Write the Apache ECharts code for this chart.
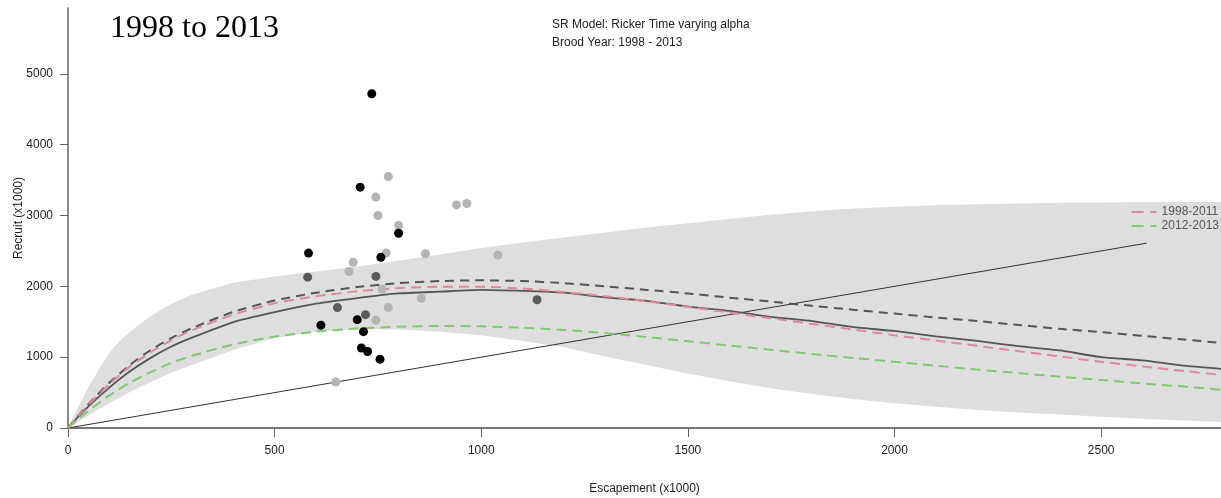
<!DOCTYPE html>
<html>
<head>
<meta charset="utf-8">
<script src="https://cdn.jsdelivr.net/npm/echarts@6.0.0/dist/echarts.min.js"></script>
<style>
html, body { margin: 0; padding: 0; background: #fff; }
#sr_chart { width: 1221px; height: 498px; }
</style>
</head>
<body>
<div id="sr_chart"></div>
<script>
// uncertainty band (own grid, denser near the origin)
var bandX      = [0, 10, 25, 50, 75, 100, 125, 150, 200, 250, 300, 400, 500, 600, 700, 800, 900, 1000, 1100, 1200, 1300, 1400, 1500, 1600, 1700, 1800, 1900, 2000, 2100, 2200, 2300, 2400, 2500, 2600, 2700, 2790];
var bandUpper  = [0, 125, 300, 580, 830, 1060, 1230, 1360, 1580, 1750, 1880, 2050, 2140, 2210, 2280, 2360, 2450, 2540, 2620, 2690, 2760, 2830, 2890, 2950, 3010, 3060, 3100, 3125, 3145, 3160, 3170, 3180, 3185, 3190, 3190, 3190];
var bandLower  = [0, 35, 90, 180, 265, 350, 430, 510, 650, 780, 890, 1100, 1270, 1360, 1395, 1390, 1360, 1310, 1230, 1140, 1010, 890, 770, 660, 560, 480, 410, 350, 300, 255, 220, 190, 160, 130, 105, 85];

// escapement grid shared by the curves
var curveX     = [0, 25, 50, 100, 150, 200, 250, 300, 400, 500, 600, 700, 800, 900, 1000, 1100, 1200, 1300, 1400, 1500, 1600, 1700, 1800, 1900, 2000, 2100, 2200, 2300, 2400, 2500, 2600, 2700, 2790];
var medianLine = [0, 160, 310, 570, 800, 990, 1150, 1275, 1495, 1635, 1755, 1835, 1900, 1925, 1950, 1935, 1910, 1845, 1795, 1715, 1655, 1570, 1510, 1425, 1370, 1295, 1230, 1155, 1095, 1000, 955, 880, 835];
var meanLine   = [0, 175, 340, 640, 890, 1100, 1270, 1410, 1640, 1800, 1910, 1990, 2045, 2075, 2085, 2075, 2045, 2000, 1950, 1900, 1840, 1785, 1725, 1670, 1615, 1560, 1510, 1455, 1400, 1355, 1300, 1250, 1200];
var line9811   = [0, 170, 330, 620, 870, 1070, 1240, 1380, 1600, 1760, 1860, 1930, 1975, 1995, 1995, 1970, 1920, 1860, 1790, 1710, 1630, 1550, 1470, 1390, 1310, 1235, 1160, 1085, 1010, 935, 870, 805, 750];
var line1213   = [0, 125, 245, 460, 640, 790, 920, 1020, 1180, 1290, 1360, 1405, 1430, 1440, 1435, 1415, 1385, 1340, 1285, 1225, 1165, 1105, 1045, 990, 935, 880, 825, 775, 725, 678, 630, 585, 540];

// replacement line S = R
var replX = [0, 2610];
var replY = [0, 2610];

// observed points, by shade
var blackS = [735, 707, 582, 612, 700, 715, 710, 725, 755, 757, 800];
var blackR = [4720, 3400, 2470, 1450, 1530, 1360, 1130, 1080, 970, 2410, 2750];
var darkS  = [580, 652, 720, 745, 1135];
var darkR  = [2130, 1700, 1600, 2140, 1810];
var lightS = [775, 745, 750, 800, 690, 680, 770, 760, 745, 775, 855, 865, 940, 965, 1040, 648];
var lightR = [3550, 3260, 3000, 2860, 2340, 2210, 2470, 1960, 1520, 1700, 1830, 2460, 3150, 3170, 2440, 650];

var xTicks = [0, 500, 1000, 1500, 2000, 2500];
var yTicks = [0, 1000, 2000, 3000, 4000, 5000];

function pairs(xs, ys) {
	var out = [];
	for (var i = 0; i < xs.length; i++) out.push([xs[i], ys[i]]);
	return out;
}

var myChart = echarts.init(document.getElementById('sr_chart'));
var font = 'Liberation Sans, Arial, sans-serif';
// two-dash legend key, like the R legend
var dashIcon = 'path://M0 0H12V2H0Z M19 0H25V2H19Z';

option = {
	animation: false,
	textStyle: { fontFamily: font },
	title: [ {
		text: '1998 to 2013',
		left: 110, top: 13, padding: 0,
		textStyle: { fontFamily: 'Liberation Serif, Times New Roman, serif', fontSize: 32, fontWeight: 'normal', color: '#000' }
	}, {
		text: 'SR Model: Ricker Time varying alpha\nBrood Year: 1998 - 2013',
		left: 552, top: 16, padding: 0,
		textStyle: { fontFamily: font, fontSize: 12, fontWeight: 'normal', color: '#222', lineHeight: 18 }
	} ],
	legend: {
		data: [ { name: '1998-2011', icon: dashIcon }, { name: '2012-2013', icon: dashIcon } ],
		orient: 'vertical',
		right: 2, top: 206,
		padding: 0,
		itemWidth: 25, itemHeight: 2, itemGap: 2,
		textStyle: { fontFamily: font, fontSize: 12, color: '#555' }
	},
	grid: { left: 68, right: 0, top: 8, bottom: 70, outerBoundsMode: 'none' },
	xAxis: {
		type: 'value', min: 0, max: 2790, interval: 500,
		name: 'Escapement (x1000)', nameLocation: 'middle', nameGap: 55, nameMoveOverlap: false,
		nameTextStyle: { fontSize: 12, color: '#222' },
		axisLine: { show: true, onZero: false, lineStyle: { color: '#777', width: 2 } },
		axisTick: { show: true, length: 9, customValues: xTicks, lineStyle: { color: '#666' } },
		axisLabel: { fontSize: 12, color: '#222', margin: 17, customValues: xTicks, formatter: function(v) { return String(v); } },
		splitLine: { show: false }
	},
	yAxis: {
		type: 'value', min: 0, max: 5930, interval: 1000,
		name: 'Recruit (x1000)', nameLocation: 'middle', nameGap: 43, nameRotate: 90, nameMoveOverlap: false,
		nameTextStyle: { fontSize: 12, color: '#222' },
		axisLine: { show: true, onZero: false, lineStyle: { color: '#666', width: 1.5 } },
		axisTick: { show: true, length: 8, customValues: yTicks, lineStyle: { color: '#666' } },
		axisLabel: { fontSize: 12, color: '#222', margin: 15, customValues: yTicks, formatter: function(v) { return String(v); } },
		splitLine: { show: false }
	},
	series: [ {
		type: 'custom',
		name: 'band',
		z: 1,
		clip: true,
		silent: true,
		data: [[0, 0]],
		renderItem: function(params, api) {
			var pts = [];
			for (var i = 0; i < bandX.length; i++) pts.push(api.coord([bandX[i], bandUpper[i]]));
			for (var j = bandX.length - 1; j >= 0; j--) pts.push(api.coord([bandX[j], bandLower[j]]));
			return { type: 'polygon', shape: { points: pts }, style: { fill: '#dedede' } };
		}
	}, {
		type: 'line', name: 'replacement', z: 2, symbol: 'none',
		data: pairs(replX, replY),
		lineStyle: { color: '#333', width: 1 }
	}, {
		type: 'line', name: 'median', z: 3, symbol: 'none', smooth: 0.15,
		data: pairs(curveX, medianLine),
		lineStyle: { color: '#555', width: 1.8 }
	}, {
		type: 'line', name: 'mean', z: 3, symbol: 'none', smooth: 0.2,
		data: pairs(curveX, meanLine),
		lineStyle: { color: '#555', width: 2, type: [9, 6] }
	}, {
		type: 'line', name: '1998-2011', z: 3, symbol: 'none', smooth: 0.2,
		data: pairs(curveX, line9811),
		itemStyle: { color: '#dc8a96' },
		lineStyle: { color: '#dc8a96', width: 2, type: [10, 6] }
	}, {
		type: 'line', name: '2012-2013', z: 3, symbol: 'none', smooth: 0.2,
		data: pairs(curveX, line1213),
		itemStyle: { color: '#82c872' },
		lineStyle: { color: '#82c872', width: 2, type: [10, 6] }
	}, {
		type: 'scatter', name: 'light', z: 4, symbolSize: 9,
		data: pairs(lightS, lightR),
		itemStyle: { color: '#b4b4b4', opacity: 1 }
	}, {
		type: 'scatter', name: 'dark', z: 4, symbolSize: 9,
		data: pairs(darkS, darkR),
		itemStyle: { color: '#5a5a5a', opacity: 1 }
	}, {
		type: 'scatter', name: 'black', z: 5, symbolSize: 9,
		data: pairs(blackS, blackR),
		itemStyle: { color: '#000', opacity: 1 }
	} ]
};

myChart.setOption(option);
</script>
</body>
</html>
